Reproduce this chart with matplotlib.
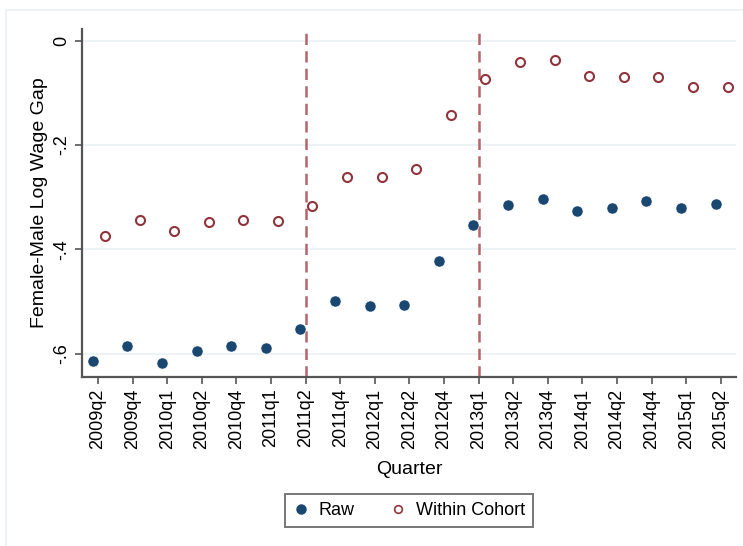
import matplotlib
matplotlib.use('Agg')
import matplotlib.pyplot as plt
import numpy as np
from matplotlib.lines import Line2D
from matplotlib.patches import Rectangle

quarters = ['2009q2', '2009q4', '2010q1', '2010q2', '2010q4', '2011q1',
            '2011q2', '2011q4', '2012q1', '2012q2', '2012q4', '2013q1',
            '2013q2', '2013q4', '2014q1', '2014q2', '2014q4', '2015q1',
            '2015q2']
raw = [-0.615, -0.585, -0.619, -0.595, -0.585, -0.590, -0.553, -0.499,
       -0.509, -0.506, -0.422, -0.354, -0.316, -0.304, -0.326, -0.321,
       -0.308, -0.321, -0.313]
within_cohort = [-0.375, -0.344, -0.365, -0.348, -0.344, -0.346, -0.317,
                 -0.262, -0.262, -0.247, -0.143, -0.074, -0.040, -0.038,
                 -0.067, -0.070, -0.070, -0.089, -0.089]
breaks = ['2011q2', '2013q1']
yticks = [0, -0.2, -0.4, -0.6]
ytick_labels = ['0', '-.2', '-.4', '-.6']

plt.rcParams['font.family'] = ['Liberation Sans', 'DejaVu Sans']

navy = '#1a476f'
maroon = '#90353b'

fig = plt.figure(figsize=(7.43, 5.46), dpi=100)
fig.subplots_adjust(left=0.110, right=0.991, top=0.947, bottom=0.309)
ax = fig.add_subplot(1, 1, 1)

# faint outer frame like stata graph region
fig.patches.append(Rectangle((0.008, -0.1), 1.2, 1.082, transform=fig.transFigure,
                             fill=False, edgecolor='#eaf1f2', lw=1.2))

x = np.arange(len(quarters))

for ytk in yticks:
    ax.axhline(ytk, color='#eaf2f3', lw=1.3, zorder=0)

for b in breaks:
    ax.axvline(quarters.index(b), color='#b5646a', lw=1.8, ls=(0, (4.5, 2.5)),
               zorder=1)

ax.plot(x - 0.15, raw, 'o', color=navy, ms=8, mec='white', mew=0.4,
        zorder=3)
ax.plot(x + 0.2, within_cohort, 'o', mfc='none', mec=maroon, ms=6.5,
        mew=1.5, zorder=3)

ax.set_xlim(-0.47, 18.45)
ax.set_ylim(-0.6455, 0.0225)

ax.set_xticks(x)
ax.set_xticklabels(quarters, rotation=90, fontsize=13)
ax.set_yticks(yticks)
ax.set_yticklabels(ytick_labels, rotation=90, fontsize=13, va='center')

for side in ['top', 'right']:
    ax.spines[side].set_visible(False)
for side in ['left', 'bottom']:
    ax.spines[side].set_color('#555555')
    ax.spines[side].set_linewidth(1.6)
ax.tick_params(axis='both', color='#555555', width=1.2, length=5, pad=3)

ax.set_xlabel('Quarter', fontsize=14, labelpad=9)
ax.set_ylabel('Female-Male Log Wage Gap', fontsize=14, labelpad=4)

legend_elements = [Line2D([0], [0], marker='o', color='none', mfc=navy,
                          mec=navy, ms=6.5, label='Raw'),
                   Line2D([0], [0], marker='o', color='none', mfc='none',
                          mec=maroon, mew=1.2, ms=5.5, label='Within Cohort')]
leg = fig.legend(handles=legend_elements, loc='center',
                 bbox_to_anchor=(0.551, 0.065), ncol=2, fontsize=13,
                 frameon=True, fancybox=False, handlelength=0.8,
                 handletextpad=0.6, columnspacing=2.0, borderpad=0.45)
leg.get_frame().set_edgecolor('#555555')
leg.get_frame().set_linewidth(1.4)

plt.savefig('out.png', dpi=100)
